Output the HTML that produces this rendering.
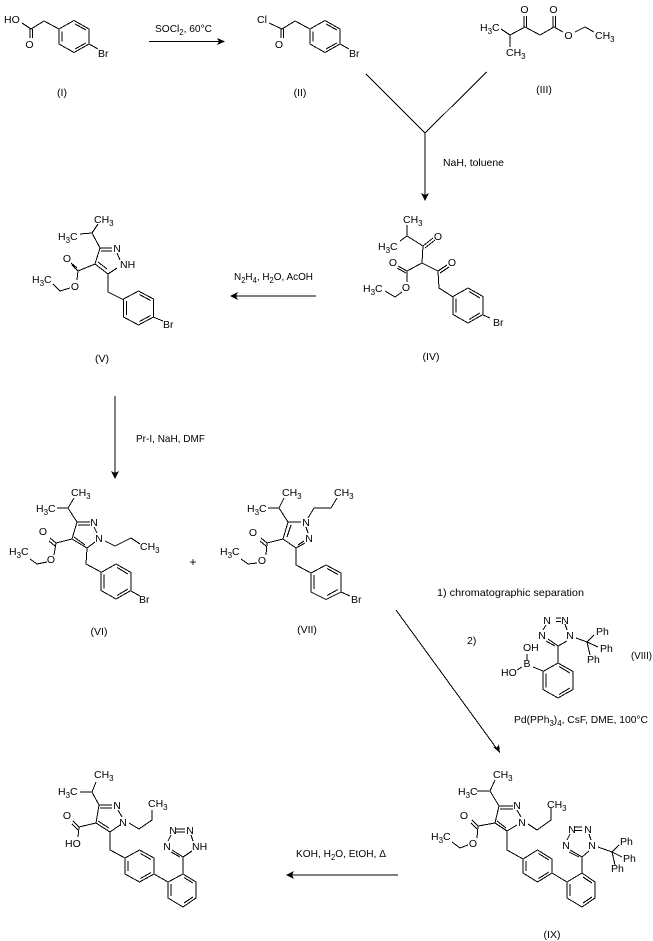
<!DOCTYPE html>
<html><head><meta charset="utf-8"><title>Reaction scheme</title>
<style>
html,body{margin:0;padding:0;background:#fff;width:653px;height:941px;overflow:hidden}
svg{display:block}
text{font-family:"Liberation Sans",Arial,sans-serif;font-size:10.5px;fill:#000;stroke:none}
.c{text-anchor:middle}
.b{fill:none;stroke:#000;stroke-width:1;shape-rendering:crispEdges}
.a{fill:#000;stroke:none;shape-rendering:crispEdges}
tspan.s{font-size:8px}
</style></head><body>
<svg width="653" height="941" viewBox="0 0 653 941" xmlns="http://www.w3.org/2000/svg">

<!-- I -->
<path class="b" d="M22 23L31 29L44 21L59 29M30 29V38M32.5 29V38M89 44L98 49"/>
<path class="b" transform="translate(74,36.5)" d="M0-16L15-7.5V7.5L0 16L-15 7.5V-7.5ZM-12-5V5M1-12.5L12-6.5M12 6.5L1 12.5"/>
<text x="4" y="23">HO</text><text x="29.5" y="48" class="c">O</text><text x="98" y="57">Br</text>
<text x="62" y="96" class="c">(I)</text>

<!-- arrow 1 -->
<path class="b" d="M149 41.5H220"/><path class="a" d="M225 41.5L217 38L219 41.5L217 45Z"/>
<text x="155" y="32" textLength="57" lengthAdjust="spacingAndGlyphs">SOCl<tspan class="s" dy="3">2</tspan><tspan dy="-3">, 60°C</tspan></text>

<!-- II -->
<path class="b" d="M269 23L282 29L295 21L310 29M281 29V38M283.5 29V38M340 44L349 49"/>
<path class="b" transform="translate(325,36.5)" d="M0-16L15-7.5V7.5L0 16L-15 7.5V-7.5ZM-12-5V5M1-12.5L12-6.5M12 6.5L1 12.5"/>
<text x="257" y="23">Cl</text><text x="279" y="48" class="c">O</text><text x="349" y="57">Br</text>
<text x="300" y="96" class="c">(II)</text>

<!-- III -->
<path class="b" d="M501 29L510 35L525 27L540 35L554 27L563 32M510 35V47M524 27V16M526.5 27V16M553 27V16M555.5 27V16M575 32L585 27L594 32"/>
<text x="480" y="31">H<tspan class="s" dy="3">3</tspan><tspan dy="-3">C</tspan></text>
<text x="506" y="56">CH<tspan class="s" dy="3">3</tspan></text>
<text x="524.5" y="13" class="c">O</text><text x="553.5" y="13" class="c">O</text><text x="568.5" y="39" class="c">O</text>
<text x="595" y="39">CH<tspan class="s" dy="3">3</tspan></text>
<text x="544" y="93" class="c">(III)</text>

<!-- Y -->
<path class="b" d="M366 74L425 133L486.7 72M425 133V196"/><path class="a" d="M425 201L421 193L425 195L429 193Z"/>
<text x="443" y="166" textLength="61" lengthAdjust="spacingAndGlyphs">NaH, toluene</text>

<!-- IV -->
<path class="b" d="M407 225V236L400 241M407 236L423 246L422 263L438 271L439 288L453 297M423 246L433 238M425 248L435 240M438 271L447 265M440 273L449 267M422 263L407 271L398 266M406 273L397 268M407 271V282M402 292L395 297L385 291M483 315L490 318"/>
<path class="b" transform="translate(468,305.5)" d="M0-17.5L15-9V9L0 17.5L-15 9V-9ZM-12-7V7M1-14L12-7.5M12 7.5L1 14"/>
<text x="403" y="223">CH<tspan class="s" dy="3">3</tspan></text>
<text x="378" y="250">H<tspan class="s" dy="3">3</tspan><tspan dy="-3">C</tspan></text>
<text x="438" y="240" class="c">O</text><text x="452" y="266" class="c">O</text><text x="393" y="266" class="c">O</text><text x="406" y="291" class="c">O</text>
<text x="363" y="292">H<tspan class="s" dy="3">3</tspan><tspan dy="-3">C</tspan></text>
<text x="493" y="326">Br</text>
<text x="431" y="360" class="c">(IV)</text>

<!-- arrow IV-V -->
<path class="b" d="M316 296H235"/><path class="a" d="M230 296L238 292L236 296L238 300Z"/>
<text x="234" y="280" textLength="79" lengthAdjust="spacingAndGlyphs">N<tspan class="s" dy="3">2</tspan><tspan dy="-3">H</tspan><tspan class="s" dy="3">4</tspan><tspan dy="-3">, H</tspan><tspan class="s" dy="3">2</tspan><tspan dy="-3">O, AcOH</tspan></text>

<!-- V -->
<path class="b" d="M80 234L92 233L98 224M92 233L100 248L95 264L108 274L117 268M100 248H112M101 251H112M117 253L120 260M98 262L107 269M95 264L78 271L72 265M77 268L71 263M78 271L77 280M70 288L60 291L53 284M108 274V292L124 300M153 317L163 321"/>
<path class="b" transform="translate(138.5,308)" d="M0-17L15-9V9L0 17L-15 9V-9ZM-12-7V7M1-13.5L12-7.5M12 7.5L1 13.5"/>
<text x="94" y="223">CH<tspan class="s" dy="3">3</tspan></text>
<text x="58" y="240">H<tspan class="s" dy="3">3</tspan><tspan dy="-3">C</tspan></text>
<text x="117" y="252" class="c">N</text><text x="120" y="268">NH</text>
<text x="67" y="262" class="c">O</text><text x="75" y="290" class="c">O</text>
<text x="32" y="283">H<tspan class="s" dy="3">3</tspan><tspan dy="-3">C</tspan></text>
<text x="163" y="328">Br</text>
<text x="102" y="362" class="c">(V)</text>

<!-- arrow V-VI -->
<path class="b" d="M115 396V474"/><path class="a" d="M115 479L111 471L115 473L119 471Z"/>
<text x="136" y="442" textLength="69" lengthAdjust="spacingAndGlyphs">Pr-I, NaH, DMF</text>

<!-- VI -->
<path class="b" d="M57 508H68L74 498M68 508L77 522L72 539L87 548L95 542M77 522H90M78 525H90M94 527L97 533M74 537L85 545M105 541L115 546L131 538L140 544M72 539L56 543L50 538M55 546L49 541M56 543L54 555M47 562L37 564L30 559M87 548L86 564L101 572M131 591L140 596"/>
<path class="b" transform="translate(116,581.5)" d="M0-17.5L15-9V9L0 17.5L-15 9V-9ZM-12-7V7M1-14L12-7.5M12 7.5L1 14"/>
<text x="71" y="496">CH<tspan class="s" dy="3">3</tspan></text>
<text x="36" y="512">H<tspan class="s" dy="3">3</tspan><tspan dy="-3">C</tspan></text>
<text x="94" y="526" class="c">N</text><text x="99" y="542" class="c">N</text>
<text x="140" y="550">CH<tspan class="s" dy="3">3</tspan></text>
<text x="43" y="535" class="c">O</text><text x="51" y="563" class="c">O</text>
<text x="9" y="555">H<tspan class="s" dy="3">3</tspan><tspan dy="-3">C</tspan></text>
<text x="139" y="603">Br</text>
<text x="99" y="635" class="c">(VI)</text>
<text x="193" y="566" class="c" style="font-size:12px">+</text>

<!-- VII -->
<path class="b" d="M268 508H279L284 498M279 508L288 522L283 539L296 548L305 543M288 522H301M291 525L287 537M298 545L304 541M308 518L314 508H331L337 498M306 527L308 533M283 539L267 543L261 538M266 546L260 541M267 543L266 555M257 563L248 564L241 559M296 548V565L311 573M341 592L350 596"/>
<path class="b" transform="translate(326,582)" d="M0-17L15-9V10L0 17.5L-15 10V-9ZM-12-7V7M1-13.5L12-7.5M12 7.5L1 13.5"/>
<text x="282" y="496">CH<tspan class="s" dy="3">3</tspan></text>
<text x="247" y="512">H<tspan class="s" dy="3">3</tspan><tspan dy="-3">C</tspan></text>
<text x="306" y="526" class="c">N</text><text x="309" y="542" class="c">N</text>
<text x="334" y="496">CH<tspan class="s" dy="3">3</tspan></text>
<text x="253" y="536" class="c">O</text><text x="262" y="564" class="c">O</text>
<text x="220" y="555">H<tspan class="s" dy="3">3</tspan><tspan dy="-3">C</tspan></text>
<text x="351" y="603">Br</text>
<text x="307" y="633" class="c">(VII)</text>

<!-- long arrow -->
<path class="b" d="M396 610L497 749"/><path class="a" d="M500 753L493 747L497 747.5L499 744Z"/>

<!-- VIII -->
<text x="437" y="596" textLength="147" lengthAdjust="spacingAndGlyphs">1) chromatographic separation</text>
<text x="467" y="644">2)</text>
<text x="631" y="659" textLength="21" lengthAdjust="spacingAndGlyphs">(VIII)</text>
<text x="514" y="723" textLength="134" lengthAdjust="spacingAndGlyphs">Pd(PPh<tspan class="s" dy="3">3</tspan><tspan dy="-3">)</tspan><tspan class="s" dy="3">4</tspan><tspan dy="-3">, CsF, DME, 100°C</tspan></text>
<path class="b" d="M556 618H561M556 621.5H561M546 625L543 630M565 624L567 630M558 646L548 639M555 646L546 641M558 646L567 641M576 638L587 642L594 635M587 642L598 647M587 642L590 655M558 646V663M543 671L533 667M527 654V660M517 670L522 667"/>
<path class="b" transform="translate(558,680.5)" d="M0-17.5L15-9V9L0 17.5L-15 9V-9ZM-12-7V7M1-14L12-7.5M12 7.5L1 14"/>
<text x="547" y="624" class="c">N</text><text x="565" y="624" class="c">N</text>
<text x="542" y="639" class="c">N</text><text x="570" y="639" class="c">N</text>
<text x="596" y="635">Ph</text><text x="600" y="652">Ph</text><text x="587" y="663">Ph</text>
<text x="523" y="651">OH</text><text x="527" y="667" class="c">B</text><text x="501" y="676">HO</text>

<!-- IX -->
<path class="b" d="M477 791H490L495 780M490 791L499 806L495 823L507 831L517 825M499 806H513M500 809H513M517 810L521 817M497 821L506 828M528 824L537 830L551 820V808M495 823L478 826L472 820M477 829L471 823M478 826L477 838M468 845L460 848L452 842M507 831V850L523 859M552 873L567 882M582 873V857M582 857L570 850M579 857L569 852M582 857L589 851M574 827H582M574 830.5H582M567 840L570 834M589 834L591 840M598 847L612 852L619 845M612 852L622 857M612 852L615 865"/>
<path class="b" transform="translate(537.5,866)" d="M0-16L14.5-7V7L0 16L-14.5 7V-7ZM-11.5-5V5M1-12.5L11.5-6M11.5 6L1 12.5"/>
<path class="b" transform="translate(581,890)" d="M1-17L14-8V8L1 17L-14 8V-8ZM-11-6V6M2-13L11-7M11 7L2 13"/>
<text x="493" y="778">CH<tspan class="s" dy="3">3</tspan></text>
<text x="458" y="795">H<tspan class="s" dy="3">3</tspan><tspan dy="-3">C</tspan></text>
<text x="517" y="809" class="c">N</text><text x="522" y="826" class="c">N</text>
<text x="547" y="808">CH<tspan class="s" dy="3">3</tspan></text>
<text x="464" y="819" class="c">O</text><text x="473" y="847" class="c">O</text>
<text x="431" y="840">H<tspan class="s" dy="3">3</tspan><tspan dy="-3">C</tspan></text>
<text x="572" y="833" class="c">N</text><text x="588" y="833" class="c">N</text>
<text x="566" y="849" class="c">N</text><text x="592" y="849" class="c">N</text>
<text x="620" y="845">Ph</text><text x="623" y="862">Ph</text><text x="611" y="872">Ph</text>
<text x="552" y="938" class="c">(IX)</text>

<!-- arrow IX-X -->
<path class="b" d="M398 875H291"/><path class="a" d="M286 875L294 871L292 875L294 879Z"/>
<text x="296" y="857" textLength="90" lengthAdjust="spacingAndGlyphs">KOH, H<tspan class="s" dy="3">2</tspan><tspan dy="-3">O, EtOH, Δ</tspan></text>

<!-- X -->
<path class="b" d="M80 792H92L96 782M92 792L99 805L96 823L110 832L120 825M99 805H112M100 808H112M118 810L122 817M98 821L109 828M129 823L139 829L152 820V810M96 823L79 827L73 821M78 830L72 824M79 827L78 837M110 832V850L125 858M154 874L168 882M183 874V857M183 857L172 850M180 857L171 852M183 857L192 851M176 829H185M176 832H185M168 841L171 835M191 835L193 841"/>
<path class="b" transform="translate(139.5,866)" d="M0-16L14.5-8V8L0 16L-14.5 8V-8ZM-11.5-5V5M1-12.5L11.5-6.5M11.5 6.5L1 12.5"/>
<path class="b" transform="translate(182,890)" d="M1-16L14-8V8L1 17L-14 8V-8ZM-11-6V6M2-12.5L11-7M11 7L2 13"/>
<text x="94" y="778">CH<tspan class="s" dy="3">3</tspan></text>
<text x="58" y="795">H<tspan class="s" dy="3">3</tspan><tspan dy="-3">C</tspan></text>
<text x="117" y="809" class="c">N</text><text x="123" y="826" class="c">N</text>
<text x="148" y="807">CH<tspan class="s" dy="3">3</tspan></text>
<text x="67" y="819" class="c">O</text><text x="65" y="847">HO</text>
<text x="173" y="834" class="c">N</text><text x="190" y="834" class="c">N</text>
<text x="167" y="850" class="c">N</text><text x="192" y="850">NH</text>

</svg>
</body></html>
